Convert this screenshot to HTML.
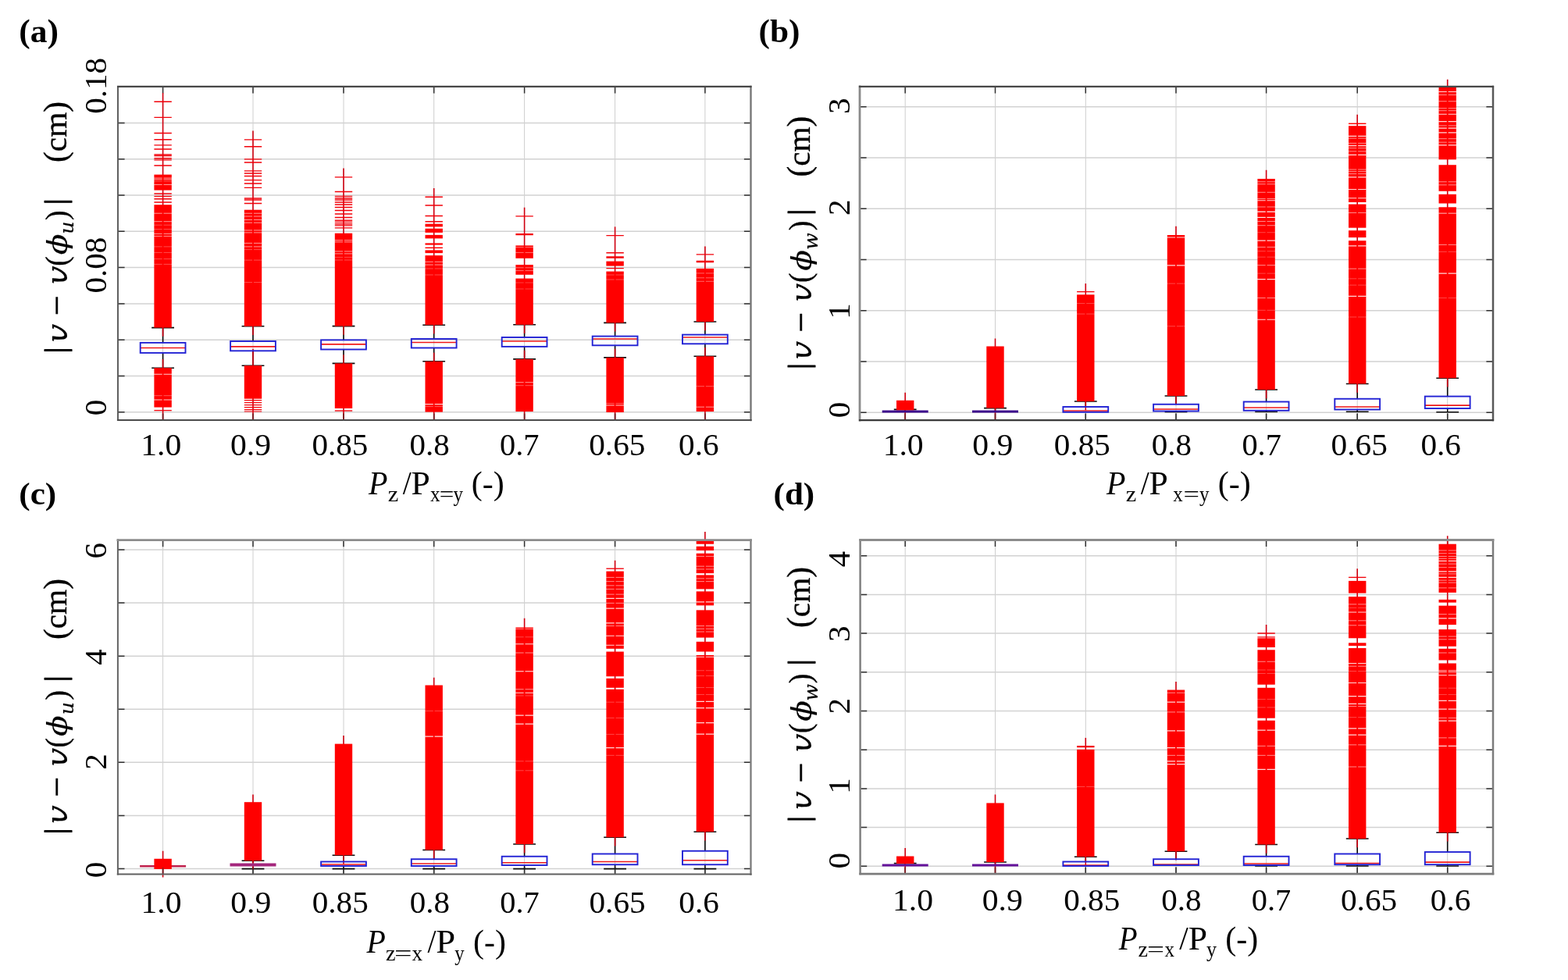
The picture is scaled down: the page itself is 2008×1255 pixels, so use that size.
<!DOCTYPE html>
<html lang="en"><head><meta charset="utf-8"><title>Box plots of displacement error versus pitch ratio</title>
<style>html,body{margin:0;padding:0;background:#fff;}body{width:2008px;height:1255px;overflow:hidden;}svg{display:block;}text{font-family:"Liberation Serif","DejaVu Serif",serif;fill:#000;}.m{font-family:"DejaVu Math TeX Gyre","DejaVu Serif","DejaVu Sans",serif;}.b{font-weight:bold;}.i{font-style:italic;}</style></head><body>
<svg width="2008" height="1255" viewBox="0 0 2008 1255">
<rect width="2008" height="1255" fill="#fff"/>
<g>
<path d="M208.6 110.9V538M324 110.9V538M440 110.9V538M555.7 110.9V538M671.6 110.9V538M787.6 110.9V538M902.9 110.9V538" stroke="#cecece" stroke-width="1.0" fill="none"/>
<path d="M151 527.8H961.5M151 481.5H961.5M151 435.2H961.5M151 388.9H961.5M151 342.6H961.5M151 296.3H961.5M151 250H961.5M151 203.7H961.5M151 157.4H961.5" stroke="#d2d2d2" stroke-width="1.5" fill="none"/>
<path d="M208.6 110.9v8.6M208.6 538v-8.6M324 110.9v8.6M324 538v-8.6M440 110.9v8.6M440 538v-8.6M555.7 110.9v8.6M555.7 538v-8.6M671.6 110.9v8.6M671.6 538v-8.6M787.6 110.9v8.6M787.6 538v-8.6M902.9 110.9v8.6M902.9 538v-8.6M151 527.8h8.6M961.5 527.8h-8.6M151 481.5h8.6M961.5 481.5h-8.6M151 435.2h8.6M961.5 435.2h-8.6M151 388.9h8.6M961.5 388.9h-8.6M151 342.6h8.6M961.5 342.6h-8.6M151 296.3h8.6M961.5 296.3h-8.6M151 250h8.6M961.5 250h-8.6M151 203.7h8.6M961.5 203.7h-8.6M151 157.4h8.6M961.5 157.4h-8.6" stroke="#303030" stroke-width="1.5" stroke-opacity="1" fill="none"/>
<path d="M208.6 419.6V438.9M194.2 419.6h28.8M208.6 451.9V471.2M194.2 471.2h28.8" stroke="#0a0a0a" stroke-width="1.6" fill="none"/>
<path d="M208.6 119V430.8" stroke="#d00010" stroke-width="1.6" fill="none"/>
<rect x="197.4" y="223.6" width="22.4" height="20" fill="#ff0000"/>
<rect x="197.4" y="262.2" width="22.4" height="157.4" fill="#ff0000"/>
<path d="M197.4 130.2h22.4M197.4 150.4h22.4M197.4 170.5h22.4M197.4 178.7h22.4M197.4 185.8h22.4M197.4 191h22.4M197.4 198h22.4M197.4 199.6h22.4M197.4 202.7h22.4M197.4 204.9h22.4M197.4 212h22.4M197.4 248h22.4M197.4 251.3h22.4M197.4 254.7h22.4M197.4 259h22.4" stroke="#f2000a" stroke-width="1.35" fill="none"/>
<path d="M197.1 228h10.6M209.5 228h10.6M197.1 229.8h10.6M209.5 229.8h10.6M197.1 236.5h10.6M209.5 236.5h10.6M197.1 273.2h10.6M209.5 273.2h10.6M197.1 283.7h10.6M209.5 283.7h10.6M197.1 299.4h10.6M209.5 299.4h10.6M197.1 302.4h10.6M209.5 302.4h10.6" stroke="#fff" stroke-opacity="0.6" stroke-width="1" fill="none"/>
<path d="M197.1 232h10.6M209.5 232h10.6M197.1 288.2h10.6M209.5 288.2h10.6M197.1 293.5h10.6M209.5 293.5h10.6M197.1 315.9h10.6M209.5 315.9h10.6M197.1 323.4h10.6M209.5 323.4h10.6M197.1 331.6h10.6M209.5 331.6h10.6M197.1 338.4h10.6M209.5 338.4h10.6" stroke="#fff" stroke-opacity="0.3" stroke-width="1" fill="none"/>
<path d="M208.6 460V538" stroke="#d00010" stroke-width="1.6" fill="none"/>
<rect x="197.4" y="471.2" width="22.4" height="50.4" fill="#ff0000"/>
<path d="M197.4 525.6h22.4" stroke="#f2000a" stroke-width="1.35" fill="none"/>
<path d="M197.1 479.2h10.6M209.5 479.2h10.6M197.1 512h10.6M209.5 512h10.6" stroke="#fff" stroke-opacity="0.8" stroke-width="1.1" fill="none"/>
<path d="M197.1 506.7h10.6M209.5 506.7h10.6" stroke="#fff" stroke-opacity="0.35" stroke-width="1" fill="none"/>
<path d="M179.7 445.5h57.8" stroke="#f01818" stroke-width="1.7" fill="none"/>
<rect x="179.7" y="438.9" width="57.8" height="13" fill="none" stroke="#2222d4" stroke-width="1.9"/>
<path d="M324 417.8V437M309.6 417.8h28.8M324 449.3V468.2M309.6 468.2h28.8" stroke="#0a0a0a" stroke-width="1.6" fill="none"/>
<path d="M324 167.5V429" stroke="#d00010" stroke-width="1.6" fill="none"/>
<rect x="312.8" y="268.7" width="22.4" height="149.1" fill="#ff0000"/>
<path d="M312.8 178.8h22.4M312.8 187.7h22.4M312.8 203.9h22.4M312.8 208h22.4M312.8 218.8h22.4M312.8 222h22.4M312.8 225.5h22.4M312.8 230.6h22.4M312.8 235h22.4M312.8 240.3h22.4M312.8 254h22.4M312.8 256h22.4M312.8 260.5h22.4" stroke="#f2000a" stroke-width="1.35" fill="none"/>
<path d="M312.5 273.2h10.6M324.9 273.2h10.6M312.5 277h10.6M324.9 277h10.6M312.5 281.5h10.6M324.9 281.5h10.6M312.5 285.2h10.6M324.9 285.2h10.6M312.5 294.9h10.6M324.9 294.9h10.6M312.5 297.9h10.6M324.9 297.9h10.6M312.5 311.4h10.6M324.9 311.4h10.6M312.5 315.9h10.6M324.9 315.9h10.6" stroke="#fff" stroke-opacity="0.6" stroke-width="1" fill="none"/>
<path d="M312.5 319.6h10.6M324.9 319.6h10.6M312.5 333.1h10.6M324.9 333.1h10.6M312.5 361.6h10.6M324.9 361.6h10.6" stroke="#fff" stroke-opacity="0.3" stroke-width="1" fill="none"/>
<path d="M324 446.7V538" stroke="#d00010" stroke-width="1.6" fill="none"/>
<rect x="312.8" y="468.2" width="22.4" height="42.5" fill="#ff0000"/>
<path d="M312.8 512.6h22.4M312.8 515.6h22.4M312.8 518.6h22.4M312.8 521.6h22.4M312.8 524.6h22.4M312.8 527h22.4" stroke="#f2000a" stroke-width="1.2" fill="none"/>
<path d="M295.1 443.9h57.8" stroke="#f01818" stroke-width="1.7" fill="none"/>
<rect x="295.1" y="437" width="57.8" height="12.3" fill="none" stroke="#2222d4" stroke-width="1.9"/>
<path d="M440 417.6V435.4M425.6 417.6h28.8M440 447.5V465.4M425.6 465.4h28.8" stroke="#0a0a0a" stroke-width="1.6" fill="none"/>
<path d="M440 215.5V428.8" stroke="#d00010" stroke-width="1.6" fill="none"/>
<rect x="428.8" y="298.7" width="22.4" height="118.9" fill="#ff0000"/>
<path d="M428.8 226.8h22.4M428.8 245.5h22.4M428.8 251.3h22.4M428.8 253.7h22.4M428.8 256h22.4M428.8 259h22.4M428.8 262h22.4M428.8 265.5h22.4M428.8 269.5h22.4M428.8 274h22.4M428.8 278.5h22.4M428.8 282.2h22.4M428.8 284.4h22.4M428.8 286.7h22.4M428.8 288.9h22.4M428.8 291.9h22.4" stroke="#f2000a" stroke-width="1.35" fill="none"/>
<path d="M428.5 307.7h10.6M440.9 307.7h10.6M428.5 309.9h10.6M440.9 309.9h10.6M428.5 321.9h10.6M440.9 321.9h10.6M428.5 324.9h10.6M440.9 324.9h10.6" stroke="#fff" stroke-opacity="0.6" stroke-width="1" fill="none"/>
<path d="M428.5 329.4h10.6M440.9 329.4h10.6M428.5 333h10.6M440.9 333h10.6" stroke="#fff" stroke-opacity="0.3" stroke-width="1" fill="none"/>
<path d="M440 454.2V538" stroke="#d00010" stroke-width="1.6" fill="none"/>
<rect x="428.8" y="465.4" width="22.4" height="57.6" fill="#ff0000"/>
<path d="M428.8 526h22.4" stroke="#f2000a" stroke-width="1.35" fill="none"/>
<path d="M411.1 440.9h57.8" stroke="#f01818" stroke-width="1.7" fill="none"/>
<rect x="411.1" y="435.4" width="57.8" height="12.1" fill="none" stroke="#2222d4" stroke-width="1.9"/>
<path d="M555.7 416.2V434M541.3 416.2h28.8M555.7 445.5V462.8M541.3 462.8h28.8" stroke="#0a0a0a" stroke-width="1.6" fill="none"/>
<path d="M555.7 241V427.4" stroke="#d00010" stroke-width="1.6" fill="none"/>
<rect x="544.5" y="286.7" width="22.4" height="3.7" fill="#ff0000"/>
<rect x="544.5" y="292.7" width="22.4" height="5.2" fill="#ff0000"/>
<rect x="544.5" y="300.9" width="22.4" height="4.5" fill="#ff0000"/>
<rect x="544.5" y="311.4" width="22.4" height="2.2" fill="#ff0000"/>
<rect x="544.5" y="316.6" width="22.4" height="1.5" fill="#ff0000"/>
<rect x="544.5" y="320.4" width="22.4" height="3.7" fill="#ff0000"/>
<rect x="544.5" y="327.1" width="22.4" height="89.1" fill="#ff0000"/>
<path d="M544.5 252.2h22.4M544.5 263h22.4M544.5 276.5h22.4M544.5 283.7h22.4" stroke="#f2000a" stroke-width="1.35" fill="none"/>
<path d="M544.2 335.3h10.6M556.6 335.3h10.6M544.2 339.1h10.6M556.6 339.1h10.6" stroke="#fff" stroke-opacity="0.6" stroke-width="1" fill="none"/>
<path d="M544.2 344h10.6M556.6 344h10.6M544.2 352h10.6M556.6 352h10.6" stroke="#fff" stroke-opacity="0.3" stroke-width="1" fill="none"/>
<path d="M555.7 451.6V538" stroke="#d00010" stroke-width="1.6" fill="none"/>
<rect x="544.5" y="462.8" width="22.4" height="64.8" fill="#ff0000"/>
<path d="M544.2 517.6h10.6M556.6 517.6h10.6" stroke="#fff" stroke-opacity="0.8" stroke-width="1.1" fill="none"/>
<path d="M544.2 520.6h10.6M556.6 520.6h10.6" stroke="#fff" stroke-opacity="0.35" stroke-width="1" fill="none"/>
<path d="M526.8 438.5h57.8" stroke="#f01818" stroke-width="1.7" fill="none"/>
<rect x="526.8" y="434" width="57.8" height="11.5" fill="none" stroke="#2222d4" stroke-width="1.9"/>
<path d="M671.6 415.8V432M657.2 415.8h28.8M671.6 443.9V459.9M657.2 459.9h28.8" stroke="#0a0a0a" stroke-width="1.6" fill="none"/>
<path d="M671.6 265.7V427" stroke="#d00010" stroke-width="1.6" fill="none"/>
<rect x="660.4" y="314.4" width="22.4" height="16.4" fill="#ff0000"/>
<rect x="660.4" y="339.1" width="22.4" height="12.7" fill="#ff0000"/>
<rect x="660.4" y="356.6" width="22.4" height="59.2" fill="#ff0000"/>
<path d="M660.4 276.9h22.4M660.4 299.6h22.4M660.4 300.6h22.4" stroke="#f2000a" stroke-width="1.35" fill="none"/>
<path d="M660.1 316.6h10.6M672.5 316.6h10.6M660.1 323.4h10.6M672.5 323.4h10.6M660.1 342.8h10.6M672.5 342.8h10.6M660.1 346.6h10.6M672.5 346.6h10.6" stroke="#fff" stroke-opacity="0.45" stroke-width="1" fill="none"/>
<path d="M660.1 362h10.6M672.5 362h10.6M660.1 370h10.6M672.5 370h10.6" stroke="#fff" stroke-opacity="0.25" stroke-width="1" fill="none"/>
<path d="M671.6 448.7V538" stroke="#d00010" stroke-width="1.6" fill="none"/>
<rect x="660.4" y="459.9" width="22.4" height="67.1" fill="#ff0000"/>
<path d="M660.1 489.7h10.6M672.5 489.7h10.6" stroke="#fff" stroke-opacity="0.6" stroke-width="1" fill="none"/>
<path d="M660.1 493.7h10.6M672.5 493.7h10.6" stroke="#fff" stroke-opacity="0.35" stroke-width="1" fill="none"/>
<path d="M642.7 437h57.8" stroke="#f01818" stroke-width="1.7" fill="none"/>
<rect x="642.7" y="432" width="57.8" height="11.9" fill="none" stroke="#2222d4" stroke-width="1.9"/>
<path d="M787.6 413.4V430.6M773.2 413.4h28.8M787.6 442.3V457.9M773.2 457.9h28.8" stroke="#0a0a0a" stroke-width="1.6" fill="none"/>
<path d="M787.6 290.4V424.6" stroke="#d00010" stroke-width="1.6" fill="none"/>
<rect x="776.4" y="334.6" width="22.4" height="6" fill="#ff0000"/>
<rect x="776.4" y="347.6" width="22.4" height="65.8" fill="#ff0000"/>
<path d="M776.4 301.6h22.4M776.4 323.7h22.4M776.4 329h22.4M776.4 330h22.4M776.4 343.6h22.4" stroke="#f2000a" stroke-width="1.35" fill="none"/>
<path d="M776.1 352h10.6M788.5 352h10.6M776.1 358h10.6M788.5 358h10.6" stroke="#fff" stroke-opacity="0.3" stroke-width="1" fill="none"/>
<path d="M787.6 446.7V538" stroke="#d00010" stroke-width="1.6" fill="none"/>
<rect x="776.4" y="457.9" width="22.4" height="70.1" fill="#ff0000"/>
<path d="M776.1 519h10.6M788.5 519h10.6" stroke="#fff" stroke-opacity="0.8" stroke-width="1.1" fill="none"/>
<path d="M776.1 516.6h10.6M788.5 516.6h10.6" stroke="#fff" stroke-opacity="0.35" stroke-width="1" fill="none"/>
<path d="M758.7 434h57.8" stroke="#f01818" stroke-width="1.7" fill="none"/>
<rect x="758.7" y="430.6" width="57.8" height="11.7" fill="none" stroke="#2222d4" stroke-width="1.9"/>
<path d="M902.9 412V428.6M888.5 412h28.8M902.9 440.3V456.3M888.5 456.3h28.8" stroke="#0a0a0a" stroke-width="1.6" fill="none"/>
<path d="M902.9 315.4V423.2" stroke="#d00010" stroke-width="1.6" fill="none"/>
<rect x="891.7" y="343.9" width="22.4" height="68.1" fill="#ff0000"/>
<path d="M891.7 325.9h22.4M891.7 334.5h22.4M891.7 335.5h22.4" stroke="#f2000a" stroke-width="1.35" fill="none"/>
<path d="M891.4 349.9h10.6M903.8 349.9h10.6M891.4 355.8h10.6M903.8 355.8h10.6M891.4 360.3h10.6M903.8 360.3h10.6" stroke="#fff" stroke-opacity="0.4" stroke-width="1" fill="none"/>
<path d="M902.9 445.1V538" stroke="#d00010" stroke-width="1.6" fill="none"/>
<rect x="891.7" y="456.3" width="22.4" height="70.7" fill="#ff0000"/>
<path d="M891.4 521.2h10.6M903.8 521.2h10.6" stroke="#fff" stroke-opacity="0.6" stroke-width="1" fill="none"/>
<path d="M891.4 494.7h10.6M903.8 494.7h10.6" stroke="#fff" stroke-opacity="0.35" stroke-width="1" fill="none"/>
<path d="M874 432h57.8" stroke="#f01818" stroke-width="1.7" fill="none"/>
<rect x="874" y="428.6" width="57.8" height="11.7" fill="none" stroke="#2222d4" stroke-width="1.9"/>
<path d="M208.6 538v-8.6M324 538v-8.6M440 538v-8.6M555.7 538v-8.6M671.6 538v-8.6M787.6 538v-8.6M902.9 538v-8.6" stroke="#303030" stroke-width="1.5" stroke-opacity="0.55" fill="none"/>
<path d="M151 110.9V538" stroke="#585858" stroke-width="1.9" fill="none" stroke-linecap="square"/>
<path d="M961.5 110.9V538" stroke="#787878" stroke-width="2.4" fill="none" stroke-linecap="square"/>
<path d="M151 110.9H961.5" stroke="#464646" stroke-width="2.1" fill="none" stroke-linecap="square"/>
<path d="M151 538H961.5" stroke="#4c4c4c" stroke-width="2.2" fill="none" stroke-linecap="square"/>
</g>
<g>
<path d="M1159.2 110.9V538.1M1274.5 110.9V538.1M1390.3 110.9V538.1M1506 110.9V538.1M1621.6 110.9V538.1M1738.2 110.9V538.1M1853.7 110.9V538.1" stroke="#cecece" stroke-width="1.0" fill="none"/>
<path d="M1101 528.2H1912M1101 462.97H1912M1101 397.74H1912M1101 332.51H1912M1101 267.28H1912M1101 202.05H1912M1101 136.82H1912" stroke="#d2d2d2" stroke-width="1.5" fill="none"/>
<path d="M1159.2 110.9v8.6M1159.2 538.1v-8.6M1274.5 110.9v8.6M1274.5 538.1v-8.6M1390.3 110.9v8.6M1390.3 538.1v-8.6M1506 110.9v8.6M1506 538.1v-8.6M1621.6 110.9v8.6M1621.6 538.1v-8.6M1738.2 110.9v8.6M1738.2 538.1v-8.6M1853.7 110.9v8.6M1853.7 538.1v-8.6M1101 528.2h8.6M1912 528.2h-8.6M1101 462.97h8.6M1912 462.97h-8.6M1101 397.74h8.6M1912 397.74h-8.6M1101 332.51h8.6M1912 332.51h-8.6M1101 267.28h8.6M1912 267.28h-8.6M1101 202.05h8.6M1912 202.05h-8.6M1101 136.82h8.6M1912 136.82h-8.6" stroke="#303030" stroke-width="1.5" stroke-opacity="1" fill="none"/>
<path d="M1159.2 524.4V526.8M1144.8 524.4h28.8" stroke="#0a0a0a" stroke-width="1.6" fill="none"/>
<path d="M1159.2 502.75V538" stroke="#d00010" stroke-width="1.6" fill="none"/>
<rect x="1148" y="512.75" width="22.4" height="12.75" fill="#ff0000"/>
<path d="M1129.7 527h59" stroke="#3c0a8c" stroke-width="3.2" fill="none"/>
<path d="M1274.5 522.6V526.8M1260.1 522.6h28.8" stroke="#0a0a0a" stroke-width="1.6" fill="none"/>
<path d="M1274.5 433.5V538" stroke="#d00010" stroke-width="1.6" fill="none"/>
<rect x="1263.3" y="443.5" width="22.4" height="79.1" fill="#ff0000"/>
<path d="M1245 527h59" stroke="#3c0a8c" stroke-width="3.2" fill="none"/>
<path d="M1390.3 514V521M1375.9 514h28.8" stroke="#0a0a0a" stroke-width="1.6" fill="none"/>
<path d="M1390.3 363.1V525.2" stroke="#d00010" stroke-width="1.6" fill="none"/>
<rect x="1379.1" y="377.3" width="22.4" height="136.7" fill="#ff0000"/>
<path d="M1379.1 373.6h22.4" stroke="#f2000a" stroke-width="1.35" fill="none"/>
<path d="M1378.8 388.58h10.6M1391.2 388.58h10.6M1378.8 402.06h10.6M1391.2 402.06h10.6" stroke="#fff" stroke-opacity="0.28" stroke-width="1" fill="none"/>
<path d="M1361.4 526h57.8" stroke="#f01818" stroke-width="1.7" fill="none"/>
<rect x="1361.4" y="521" width="57.8" height="6.75" fill="none" stroke="#2222d4" stroke-width="1.9"/>
<path d="M1506 507V517.75M1491.6 507h28.8M1506 526.5V527.5M1491.6 527.5h28.8" stroke="#0a0a0a" stroke-width="1.6" fill="none"/>
<path d="M1506 289.7V518.2" stroke="#d00010" stroke-width="1.6" fill="none"/>
<rect x="1494.8" y="301" width="22.4" height="206" fill="#ff0000"/>
<path d="M1494.5 303.96h10.6M1506.9 303.96h10.6M1494.5 339.91h10.6M1506.9 339.91h10.6" stroke="#fff" stroke-opacity="0.85" stroke-width="1.15" fill="none"/>
<path d="M1494.5 363.12h10.6M1506.9 363.12h10.6M1494.5 417.79h10.6M1506.9 417.79h10.6" stroke="#fff" stroke-opacity="0.28" stroke-width="1" fill="none"/>
<path d="M1477.1 524h57.8" stroke="#f01818" stroke-width="1.7" fill="none"/>
<rect x="1477.1" y="517.75" width="57.8" height="8.75" fill="none" stroke="#2222d4" stroke-width="1.9"/>
<path d="M1621.6 499V514.5M1607.2 499h28.8M1621.6 525.75V527.25M1607.2 527.25h28.8" stroke="#0a0a0a" stroke-width="1.6" fill="none"/>
<path d="M1621.6 217.8V510.2" stroke="#d00010" stroke-width="1.6" fill="none"/>
<rect x="1610.4" y="229" width="22.4" height="270" fill="#ff0000"/>
<path d="M1610.1 256.75h10.6M1622.5 256.75h10.6M1610.1 270.98h10.6M1622.5 270.98h10.6M1610.1 278.47h10.6M1622.5 278.47h10.6M1610.1 308.19h10.6M1622.5 308.19h10.6M1610.1 357.61h10.6M1622.5 357.61h10.6M1610.1 409.28h10.6M1622.5 409.28h10.6" stroke="#fff" stroke-opacity="0.85" stroke-width="1.15" fill="none"/>
<path d="M1610.1 232.79h10.6M1622.5 232.79h10.6M1610.1 235.78h10.6M1622.5 235.78h10.6M1610.1 246.27h10.6M1622.5 246.27h10.6M1610.1 254.5h10.6M1622.5 254.5h10.6M1610.1 264.99h10.6M1622.5 264.99h10.6M1610.1 271.5h10.6M1622.5 271.5h10.6M1610.1 278.24h10.6M1622.5 278.24h10.6M1610.1 283.48h10.6M1622.5 283.48h10.6M1610.1 288.72h10.6M1622.5 288.72h10.6M1610.1 316.43h10.6M1622.5 316.43h10.6M1610.1 339.64h10.6M1622.5 339.64h10.6M1610.1 381.58h10.6M1622.5 381.58h10.6" stroke="#fff" stroke-opacity="0.55" stroke-width="1" fill="none"/>
<path d="M1610.1 297.71h10.6M1622.5 297.71h10.6M1610.1 321.67h10.6M1622.5 321.67h10.6M1610.1 329.16h10.6M1622.5 329.16h10.6M1610.1 350.13h10.6M1622.5 350.13h10.6M1610.1 397.3h10.6M1622.5 397.3h10.6" stroke="#fff" stroke-opacity="0.28" stroke-width="1" fill="none"/>
<path d="M1592.7 522h57.8" stroke="#f01818" stroke-width="1.7" fill="none"/>
<rect x="1592.7" y="514.5" width="57.8" height="11.25" fill="none" stroke="#2222d4" stroke-width="1.9"/>
<path d="M1738.2 491.5V510.75M1723.8 491.5h28.8M1738.2 524.5V527.25M1723.8 527.25h28.8" stroke="#0a0a0a" stroke-width="1.6" fill="none"/>
<path d="M1738.2 146.7V502.7" stroke="#d00010" stroke-width="1.6" fill="none"/>
<rect x="1727" y="157.6" width="22.4" height="1.5" fill="#ff0000"/>
<rect x="1727" y="161.2" width="22.4" height="97.8" fill="#ff0000"/>
<rect x="1727" y="261.54" width="22.4" height="30.17" fill="#ff0000"/>
<rect x="1727" y="295.16" width="22.4" height="8.99" fill="#ff0000"/>
<rect x="1727" y="308.19" width="22.4" height="183.31" fill="#ff0000"/>
<path d="M1726.7 174.38h10.6M1739.1 174.38h10.6M1726.7 186.66h10.6M1739.1 186.66h10.6M1726.7 198.34h10.6M1739.1 198.34h10.6M1726.7 226.8h10.6M1739.1 226.8h10.6M1726.7 242.52h10.6M1739.1 242.52h10.6M1726.7 253.75h10.6M1739.1 253.75h10.6M1726.7 314.93h10.6M1739.1 314.93h10.6M1726.7 379.33h10.6M1739.1 379.33h10.6" stroke="#fff" stroke-opacity="0.85" stroke-width="1.15" fill="none"/>
<path d="M1726.7 177.07h10.6M1739.1 177.07h10.6M1726.7 183.36h10.6M1739.1 183.36h10.6M1726.7 189.65h10.6M1739.1 189.65h10.6M1726.7 193.85h10.6M1739.1 193.85h10.6M1726.7 217.06h10.6M1739.1 217.06h10.6M1726.7 219.61h10.6M1739.1 219.61h10.6M1726.7 222.6h10.6M1739.1 222.6h10.6M1726.7 272.47h10.6M1739.1 272.47h10.6M1726.7 344.14h10.6M1739.1 344.14h10.6" stroke="#fff" stroke-opacity="0.55" stroke-width="1" fill="none"/>
<path d="M1726.7 356.87h10.6M1739.1 356.87h10.6M1726.7 365.1h10.6M1739.1 365.1h10.6M1726.7 405.99h10.6M1739.1 405.99h10.6" stroke="#fff" stroke-opacity="0.28" stroke-width="1" fill="none"/>
<path d="M1709.3 521h57.8" stroke="#f01818" stroke-width="1.7" fill="none"/>
<rect x="1709.3" y="510.75" width="57.8" height="13.75" fill="none" stroke="#2222d4" stroke-width="1.9"/>
<path d="M1853.7 484.2V507.6M1839.3 484.2h28.8M1853.7 523V527.8M1839.3 527.8h28.8" stroke="#0a0a0a" stroke-width="1.6" fill="none"/>
<path d="M1853.7 101.7V495.4" stroke="#d00010" stroke-width="1.6" fill="none"/>
<rect x="1842.5" y="110.7" width="22.4" height="93.63" fill="#ff0000"/>
<rect x="1842.5" y="211.22" width="22.4" height="33.55" fill="#ff0000"/>
<rect x="1842.5" y="248.81" width="22.4" height="11.68" fill="#ff0000"/>
<rect x="1842.5" y="265.29" width="22.4" height="218.91" fill="#ff0000"/>
<path d="M1842.2 117.47h10.6M1854.6 117.47h10.6M1842.2 146.22h10.6M1854.6 146.22h10.6M1842.2 155.66h10.6M1854.6 155.66h10.6M1842.2 164.19h10.6M1854.6 164.19h10.6M1842.2 169.88h10.6M1854.6 169.88h10.6M1842.2 185.91h10.6M1854.6 185.91h10.6M1842.2 350.13h10.6M1854.6 350.13h10.6" stroke="#fff" stroke-opacity="0.85" stroke-width="1.15" fill="none"/>
<path d="M1842.2 121.51h10.6M1854.6 121.51h10.6M1842.2 129.75h10.6M1854.6 129.75h10.6M1842.2 138.73h10.6M1854.6 138.73h10.6M1842.2 141.73h10.6M1854.6 141.73h10.6M1842.2 160.9h10.6M1854.6 160.9h10.6M1842.2 177.67h10.6M1854.6 177.67h10.6M1842.2 182.16h10.6M1854.6 182.16h10.6M1842.2 232.79h10.6M1854.6 232.79h10.6M1842.2 236.83h10.6M1854.6 236.83h10.6M1842.2 273.22h10.6M1854.6 273.22h10.6M1842.2 313.43h10.6M1854.6 313.43h10.6" stroke="#fff" stroke-opacity="0.55" stroke-width="1" fill="none"/>
<path d="M1842.2 273h10.6M1854.6 273h10.6M1842.2 322.42h10.6M1854.6 322.42h10.6M1842.2 381.58h10.6M1854.6 381.58h10.6" stroke="#fff" stroke-opacity="0.28" stroke-width="1" fill="none"/>
<path d="M1824.8 519.2h57.8" stroke="#f01818" stroke-width="1.7" fill="none"/>
<rect x="1824.8" y="507.6" width="57.8" height="15.4" fill="none" stroke="#2222d4" stroke-width="1.9"/>
<path d="M1159.2 538.1v-8.6M1274.5 538.1v-8.6M1390.3 538.1v-8.6M1506 538.1v-8.6M1621.6 538.1v-8.6M1738.2 538.1v-8.6M1853.7 538.1v-8.6" stroke="#303030" stroke-width="1.5" stroke-opacity="0.55" fill="none"/>
<path d="M1101 110.9V538.1" stroke="#8a8a8a" stroke-width="2.8" fill="none" stroke-linecap="square"/>
<path d="M1912 110.9V538.1" stroke="#585858" stroke-width="2.5" fill="none" stroke-linecap="square"/>
<path d="M1101 110.9H1912" stroke="#464646" stroke-width="2.1" fill="none" stroke-linecap="square"/>
<path d="M1101 538.1H1912" stroke="#3a3a3a" stroke-width="2.1" fill="none" stroke-linecap="square"/>
</g>
<g>
<path d="M208.6 691.6V1119.5M324 691.6V1119.5M440 691.6V1119.5M555.7 691.6V1119.5M671.6 691.6V1119.5M787.6 691.6V1119.5M902.9 691.6V1119.5" stroke="#cecece" stroke-width="1.0" fill="none"/>
<path d="M150.9 1112.5H961.5M150.9 1044.42H961.5M150.9 976.34H961.5M150.9 908.26H961.5M150.9 840.18H961.5M150.9 772.1H961.5M150.9 704.02H961.5" stroke="#d2d2d2" stroke-width="1.5" fill="none"/>
<path d="M208.6 691.6v8.6M208.6 1119.5v-8.6M324 691.6v8.6M324 1119.5v-8.6M440 691.6v8.6M440 1119.5v-8.6M555.7 691.6v8.6M555.7 1119.5v-8.6M671.6 691.6v8.6M671.6 1119.5v-8.6M787.6 691.6v8.6M787.6 1119.5v-8.6M902.9 691.6v8.6M902.9 1119.5v-8.6M150.9 1112.5h8.6M961.5 1112.5h-8.6M150.9 1044.42h8.6M961.5 1044.42h-8.6M150.9 976.34h8.6M961.5 976.34h-8.6M150.9 908.26h8.6M961.5 908.26h-8.6M150.9 840.18h8.6M961.5 840.18h-8.6M150.9 772.1h8.6M961.5 772.1h-8.6M150.9 704.02h8.6M961.5 704.02h-8.6" stroke="#303030" stroke-width="1.5" stroke-opacity="1" fill="none"/>
<path d="M179.1 1109.25h59" stroke="#c0224e" stroke-width="2.6" fill="none"/>
<path d="M208.6 1089.75V1123.5" stroke="#d00010" stroke-width="1.6" fill="none"/>
<rect x="197.4" y="1099.75" width="22.4" height="13.25" fill="#ff0000"/>
<path d="M324 1102.25V1105.6M309.6 1102.25h28.8M324 1109.6V1112.6M309.6 1112.6h28.8" stroke="#0a0a0a" stroke-width="1.6" fill="none"/>
<path d="M324 1017.5V1113.45" stroke="#d00010" stroke-width="1.6" fill="none"/>
<rect x="312.8" y="1027.2" width="22.4" height="75.05" fill="#ff0000"/>
<path d="M294.5 1107.6h59" stroke="#a4267c" stroke-width="4" fill="none"/>
<path d="M440 1095.25V1103.5M425.6 1095.25h28.8M440 1109V1112.6M425.6 1112.6h28.8" stroke="#0a0a0a" stroke-width="1.6" fill="none"/>
<path d="M440 941.9V1106.45" stroke="#d00010" stroke-width="1.6" fill="none"/>
<rect x="428.8" y="952.6" width="22.4" height="142.65" fill="#ff0000"/>
<path d="M411.1 1107h57.8" stroke="#f01818" stroke-width="1.7" fill="none"/>
<rect x="411.1" y="1103.5" width="57.8" height="5.5" fill="none" stroke="#2222d4" stroke-width="1.9"/>
<path d="M555.7 1088.5V1100.25M541.3 1088.5h28.8M555.7 1109V1112.6M541.3 1112.6h28.8" stroke="#0a0a0a" stroke-width="1.6" fill="none"/>
<path d="M555.7 867.7V1099.7" stroke="#d00010" stroke-width="1.6" fill="none"/>
<rect x="544.5" y="877.5" width="22.4" height="211" fill="#ff0000"/>
<path d="M544.2 943.06h10.6M556.6 943.06h10.6" stroke="#fff" stroke-opacity="0.85" stroke-width="1.15" fill="none"/>
<path d="M544.2 910.41h10.6M556.6 910.41h10.6" stroke="#fff" stroke-opacity="0.28" stroke-width="1" fill="none"/>
<path d="M526.8 1106h57.8" stroke="#f01818" stroke-width="1.7" fill="none"/>
<rect x="526.8" y="1100.25" width="57.8" height="8.75" fill="none" stroke="#2222d4" stroke-width="1.9"/>
<path d="M671.6 1081V1096.75M657.2 1081h28.8M671.6 1108V1112.6M657.2 1112.6h28.8" stroke="#0a0a0a" stroke-width="1.6" fill="none"/>
<path d="M671.6 791.8V1092.2" stroke="#d00010" stroke-width="1.6" fill="none"/>
<rect x="660.4" y="803.5" width="22.4" height="277.5" fill="#ff0000"/>
<path d="M660.1 824.77h10.6M672.5 824.77h10.6M660.1 887.2h10.6M672.5 887.2h10.6M660.1 916.11h10.6M672.5 916.11h10.6M660.1 927.19h10.6M672.5 927.19h10.6" stroke="#fff" stroke-opacity="0.85" stroke-width="1.15" fill="none"/>
<path d="M660.1 805.3h10.6M672.5 805.3h10.6M660.1 836h10.6M672.5 836h10.6M660.1 859.96h10.6M672.5 859.96h10.6M660.1 859.49h10.6M672.5 859.49h10.6M660.1 882.71h10.6M672.5 882.71h10.6" stroke="#fff" stroke-opacity="0.55" stroke-width="1" fill="none"/>
<path d="M660.1 815.78h10.6M672.5 815.78h10.6M660.1 890.94h10.6M672.5 890.94h10.6M660.1 974.81h10.6M672.5 974.81h10.6M660.1 986.8h10.6M672.5 986.8h10.6" stroke="#fff" stroke-opacity="0.28" stroke-width="1" fill="none"/>
<path d="M642.7 1104.75h57.8" stroke="#f01818" stroke-width="1.7" fill="none"/>
<rect x="642.7" y="1096.75" width="57.8" height="11.25" fill="none" stroke="#2222d4" stroke-width="1.9"/>
<path d="M787.6 1072.25V1093.5M773.2 1072.25h28.8M787.6 1107.25V1112.6M773.2 1112.6h28.8" stroke="#0a0a0a" stroke-width="1.6" fill="none"/>
<path d="M787.6 717.7V1083.45" stroke="#d00010" stroke-width="1.6" fill="none"/>
<rect x="776.4" y="731.6" width="22.4" height="99.16" fill="#ff0000"/>
<rect x="776.4" y="834.5" width="22.4" height="31.73" fill="#ff0000"/>
<rect x="776.4" y="868.78" width="22.4" height="11.98" fill="#ff0000"/>
<rect x="776.4" y="882.71" width="22.4" height="189.54" fill="#ff0000"/>
<path d="M776.4 728.2h22.4" stroke="#f2000a" stroke-width="1.35" fill="none"/>
<path d="M776.1 766.36h10.6M788.5 766.36h10.6M776.1 779.09h10.6M788.5 779.09h10.6M776.1 797.81h10.6M788.5 797.81h10.6M776.1 814.28h10.6M788.5 814.28h10.6M776.1 826.27h10.6M788.5 826.27h10.6M776.1 957.59h10.6M788.5 957.59h10.6" stroke="#fff" stroke-opacity="0.85" stroke-width="1.15" fill="none"/>
<path d="M776.1 739.4h10.6M788.5 739.4h10.6M776.1 744.64h10.6M788.5 744.64h10.6M776.1 749.88h10.6M788.5 749.88h10.6M776.1 754.38h10.6M788.5 754.38h10.6M776.1 761.12h10.6M788.5 761.12h10.6M776.1 772.35h10.6M788.5 772.35h10.6M776.1 801.55h10.6M788.5 801.55h10.6" stroke="#fff" stroke-opacity="0.55" stroke-width="1" fill="none"/>
<path d="M776.1 899.18h10.6M788.5 899.18h10.6M776.1 919.4h10.6M788.5 919.4h10.6M776.1 940.37h10.6M788.5 940.37h10.6M776.1 967.33h10.6M788.5 967.33h10.6" stroke="#fff" stroke-opacity="0.28" stroke-width="1" fill="none"/>
<path d="M758.7 1103.5h57.8" stroke="#f01818" stroke-width="1.7" fill="none"/>
<rect x="758.7" y="1093.5" width="57.8" height="13.75" fill="none" stroke="#2222d4" stroke-width="1.9"/>
<path d="M902.9 1065.25V1089.75M888.5 1065.25h28.8M902.9 1107.25V1112.6M888.5 1112.6h28.8" stroke="#0a0a0a" stroke-width="1.6" fill="none"/>
<path d="M902.9 681V1076.45" stroke="#d00010" stroke-width="1.6" fill="none"/>
<rect x="891.7" y="691.2" width="22.4" height="5.52" fill="#ff0000"/>
<rect x="891.7" y="699.71" width="22.4" height="5.24" fill="#ff0000"/>
<rect x="891.7" y="708.7" width="22.4" height="25.46" fill="#ff0000"/>
<rect x="891.7" y="736.4" width="22.4" height="17.97" fill="#ff0000"/>
<rect x="891.7" y="757.37" width="22.4" height="17.97" fill="#ff0000"/>
<rect x="891.7" y="781.34" width="22.4" height="35.2" fill="#ff0000"/>
<rect x="891.7" y="821.77" width="22.4" height="12.73" fill="#ff0000"/>
<rect x="891.7" y="839" width="22.4" height="226.25" fill="#ff0000"/>
<path d="M891.4 770.85h10.6M903.8 770.85h10.6M891.4 841.24h10.6M903.8 841.24h10.6M891.4 898.43h10.6M903.8 898.43h10.6M891.4 906.67h10.6M903.8 906.67h10.6M891.4 925.69h10.6M903.8 925.69h10.6M891.4 940.07h10.6M903.8 940.07h10.6" stroke="#fff" stroke-opacity="0.85" stroke-width="1.15" fill="none"/>
<path d="M891.4 712.44h10.6M903.8 712.44h10.6M891.4 725.17h10.6M903.8 725.17h10.6M891.4 728.92h10.6M903.8 728.92h10.6M891.4 740.9h10.6M903.8 740.9h10.6M891.4 744.64h10.6M903.8 744.64h10.6M891.4 801.55h10.6M903.8 801.55h10.6M891.4 805.3h10.6M903.8 805.3h10.6M891.4 809.04h10.6M903.8 809.04h10.6" stroke="#fff" stroke-opacity="0.55" stroke-width="1" fill="none"/>
<path d="M891.4 858.74h10.6M903.8 858.74h10.6M891.4 865.48h10.6M903.8 865.48h10.6M891.4 880.46h10.6M903.8 880.46h10.6M891.4 889.45h10.6M903.8 889.45h10.6" stroke="#fff" stroke-opacity="0.28" stroke-width="1" fill="none"/>
<path d="M874 1101.75h57.8" stroke="#f01818" stroke-width="1.7" fill="none"/>
<rect x="874" y="1089.75" width="57.8" height="17.5" fill="none" stroke="#2222d4" stroke-width="1.9"/>
<path d="M208.6 1119.5v-8.6M324 1119.5v-8.6M440 1119.5v-8.6M555.7 1119.5v-8.6M671.6 1119.5v-8.6M787.6 1119.5v-8.6M902.9 1119.5v-8.6" stroke="#303030" stroke-width="1.5" stroke-opacity="0.55" fill="none"/>
<path d="M150.9 691.6V1119.5" stroke="#646464" stroke-width="2" fill="none" stroke-linecap="square"/>
<path d="M961.5 691.6V1119.5" stroke="#7c7c7c" stroke-width="2.3" fill="none" stroke-linecap="square"/>
<path d="M150.9 691.6H961.5" stroke="#8c8c8c" stroke-width="2.8" fill="none" stroke-linecap="square"/>
<path d="M150.9 1119.5H961.5" stroke="#606060" stroke-width="2.2" fill="none" stroke-linecap="square"/>
</g>
<g>
<path d="M1159.2 691.5V1119.1M1274.5 691.5V1119.1M1390.3 691.5V1119.1M1506 691.5V1119.1M1621.6 691.5V1119.1M1738.2 691.5V1119.1M1853.7 691.5V1119.1" stroke="#cecece" stroke-width="1.0" fill="none"/>
<path d="M1101.6 1109.3H1912M1101.6 1059.6H1912M1101.6 1009.9H1912M1101.6 960.2H1912M1101.6 910.5H1912M1101.6 860.8H1912M1101.6 811.1H1912M1101.6 761.4H1912M1101.6 711.7H1912" stroke="#d2d2d2" stroke-width="1.5" fill="none"/>
<path d="M1159.2 691.5v8.6M1159.2 1119.1v-8.6M1274.5 691.5v8.6M1274.5 1119.1v-8.6M1390.3 691.5v8.6M1390.3 1119.1v-8.6M1506 691.5v8.6M1506 1119.1v-8.6M1621.6 691.5v8.6M1621.6 1119.1v-8.6M1738.2 691.5v8.6M1738.2 1119.1v-8.6M1853.7 691.5v8.6M1853.7 1119.1v-8.6M1101.6 1109.3h8.6M1912 1109.3h-8.6M1101.6 1059.6h8.6M1912 1059.6h-8.6M1101.6 1009.9h8.6M1912 1009.9h-8.6M1101.6 960.2h8.6M1912 960.2h-8.6M1101.6 910.5h8.6M1912 910.5h-8.6M1101.6 860.8h8.6M1912 860.8h-8.6M1101.6 811.1h8.6M1912 811.1h-8.6M1101.6 761.4h8.6M1912 761.4h-8.6M1101.6 711.7h8.6M1912 711.7h-8.6" stroke="#303030" stroke-width="1.5" stroke-opacity="1" fill="none"/>
<path d="M1159.2 1105.6V1107.8M1144.8 1105.6h28.8" stroke="#0a0a0a" stroke-width="1.6" fill="none"/>
<path d="M1159.2 1086V1119" stroke="#d00010" stroke-width="1.6" fill="none"/>
<rect x="1148" y="1096.5" width="22.4" height="9.5" fill="#ff0000"/>
<path d="M1129.7 1108h59" stroke="#64129a" stroke-width="3.2" fill="none"/>
<path d="M1274.5 1104V1107.8M1260.1 1104h28.8" stroke="#0a0a0a" stroke-width="1.6" fill="none"/>
<path d="M1274.5 1017.5V1119" stroke="#d00010" stroke-width="1.6" fill="none"/>
<rect x="1263.3" y="1028.4" width="22.4" height="75.6" fill="#ff0000"/>
<path d="M1245 1108h59" stroke="#64129a" stroke-width="3.2" fill="none"/>
<path d="M1390.3 1097.25V1103.5M1375.9 1097.25h28.8" stroke="#0a0a0a" stroke-width="1.6" fill="none"/>
<path d="M1390.3 944.9V1108.45" stroke="#d00010" stroke-width="1.6" fill="none"/>
<rect x="1379.1" y="959.8" width="22.4" height="137.45" fill="#ff0000"/>
<path d="M1379.1 955.6h22.4M1379.1 956.6h22.4" stroke="#f2000a" stroke-width="1.35" fill="none"/>
<path d="M1378.8 1007.46h10.6M1391.2 1007.46h10.6" stroke="#fff" stroke-opacity="0.28" stroke-width="1" fill="none"/>
<path d="M1361.4 1108h57.8" stroke="#f01818" stroke-width="1.7" fill="none"/>
<rect x="1361.4" y="1103.5" width="57.8" height="5.5" fill="none" stroke="#2222d4" stroke-width="1.9"/>
<path d="M1506 1090.25V1100.25M1491.6 1090.25h28.8" stroke="#0a0a0a" stroke-width="1.6" fill="none"/>
<path d="M1506 873V1101.45" stroke="#d00010" stroke-width="1.6" fill="none"/>
<rect x="1494.8" y="883.5" width="22.4" height="206.75" fill="#ff0000"/>
<path d="M1494.5 899.18h10.6M1506.9 899.18h10.6M1494.5 935.87h10.6M1506.9 935.87h10.6M1494.5 957.59h10.6M1506.9 957.59h10.6M1494.5 974.81h10.6M1506.9 974.81h10.6M1494.5 978.56h10.6M1506.9 978.56h10.6" stroke="#fff" stroke-opacity="0.85" stroke-width="1.15" fill="none"/>
<path d="M1494.5 887.2h10.6M1506.9 887.2h10.6M1494.5 911.91h10.6M1506.9 911.91h10.6M1494.5 967.33h10.6M1506.9 967.33h10.6" stroke="#fff" stroke-opacity="0.55" stroke-width="1" fill="none"/>
<path d="M1477.1 1107h57.8" stroke="#f01818" stroke-width="1.7" fill="none"/>
<rect x="1477.1" y="1100.25" width="57.8" height="7.75" fill="none" stroke="#2222d4" stroke-width="1.9"/>
<path d="M1621.6 1081.5V1096.75M1607.2 1081.5h28.8M1621.6 1108V1109M1607.2 1109h28.8" stroke="#0a0a0a" stroke-width="1.6" fill="none"/>
<path d="M1621.6 800V1092.7" stroke="#d00010" stroke-width="1.6" fill="none"/>
<rect x="1610.4" y="817.3" width="22.4" height="11.66" fill="#ff0000"/>
<rect x="1610.4" y="832.26" width="22.4" height="44.46" fill="#ff0000"/>
<rect x="1610.4" y="880.76" width="22.4" height="38.94" fill="#ff0000"/>
<rect x="1610.4" y="922.7" width="22.4" height="158.8" fill="#ff0000"/>
<path d="M1610.4 811h22.4M1610.4 815.8h22.4" stroke="#f2000a" stroke-width="1.35" fill="none"/>
<path d="M1610.1 935.13h10.6M1622.5 935.13h10.6M1610.1 985.3h10.6M1622.5 985.3h10.6" stroke="#fff" stroke-opacity="0.85" stroke-width="1.15" fill="none"/>
<path d="M1610.1 847.23h10.6M1622.5 847.23h10.6M1610.1 955.34h10.6M1622.5 955.34h10.6M1610.1 967.33h10.6M1622.5 967.33h10.6" stroke="#fff" stroke-opacity="0.55" stroke-width="1" fill="none"/>
<path d="M1610.1 858h10.6M1622.5 858h10.6M1610.1 862.49h10.6M1622.5 862.49h10.6M1610.1 895.44h10.6M1622.5 895.44h10.6M1610.1 905.92h10.6M1622.5 905.92h10.6" stroke="#fff" stroke-opacity="0.28" stroke-width="1" fill="none"/>
<path d="M1592.7 1106h57.8" stroke="#f01818" stroke-width="1.7" fill="none"/>
<rect x="1592.7" y="1096.75" width="57.8" height="11.25" fill="none" stroke="#2222d4" stroke-width="1.9"/>
<path d="M1738.2 1074V1093.5M1723.8 1074h28.8M1738.2 1107.25V1109M1723.8 1109h28.8" stroke="#0a0a0a" stroke-width="1.6" fill="none"/>
<path d="M1738.2 728.2V1085.2" stroke="#d00010" stroke-width="1.6" fill="none"/>
<rect x="1727" y="743.9" width="22.4" height="15.72" fill="#ff0000"/>
<rect x="1727" y="764.11" width="22.4" height="53.17" fill="#ff0000"/>
<rect x="1727" y="823.27" width="22.4" height="3.74" fill="#ff0000"/>
<rect x="1727" y="830.01" width="22.4" height="243.99" fill="#ff0000"/>
<path d="M1727 739.4h22.4" stroke="#f2000a" stroke-width="1.35" fill="none"/>
<path d="M1726.7 784.03h10.6M1739.1 784.03h10.6M1726.7 849.48h10.6M1739.1 849.48h10.6M1726.7 874.47h10.6M1739.1 874.47h10.6M1726.7 891.69h10.6M1739.1 891.69h10.6M1726.7 901.43h10.6M1739.1 901.43h10.6M1726.7 932.88h10.6M1739.1 932.88h10.6M1726.7 941.12h10.6M1739.1 941.12h10.6" stroke="#fff" stroke-opacity="0.85" stroke-width="1.15" fill="none"/>
<path d="M1726.7 773.85h10.6M1739.1 773.85h10.6M1726.7 794.81h10.6M1739.1 794.81h10.6M1726.7 800.81h10.6M1739.1 800.81h10.6M1726.7 853.22h10.6M1739.1 853.22h10.6M1726.7 904.42h10.6M1739.1 904.42h10.6M1726.7 953.85h10.6M1739.1 953.85h10.6M1726.7 982h10.6M1739.1 982h10.6" stroke="#fff" stroke-opacity="0.55" stroke-width="1" fill="none"/>
<path d="M1726.7 778.34h10.6M1739.1 778.34h10.6M1726.7 859.49h10.6M1739.1 859.49h10.6M1726.7 918.65h10.6M1739.1 918.65h10.6" stroke="#fff" stroke-opacity="0.28" stroke-width="1" fill="none"/>
<path d="M1709.3 1105.5h57.8" stroke="#f01818" stroke-width="1.7" fill="none"/>
<rect x="1709.3" y="1093.5" width="57.8" height="13.75" fill="none" stroke="#2222d4" stroke-width="1.9"/>
<path d="M1853.7 1066.3V1091.1M1839.3 1066.3h28.8M1853.7 1107.2V1109M1839.3 1109h28.8" stroke="#0a0a0a" stroke-width="1.6" fill="none"/>
<path d="M1853.7 686.2V1077.5" stroke="#d00010" stroke-width="1.6" fill="none"/>
<rect x="1842.5" y="696.7" width="22.4" height="62.17" fill="#ff0000"/>
<rect x="1842.5" y="767.86" width="22.4" height="3.74" fill="#ff0000"/>
<rect x="1842.5" y="775.64" width="22.4" height="24.41" fill="#ff0000"/>
<rect x="1842.5" y="806.05" width="22.4" height="21.72" fill="#ff0000"/>
<rect x="1842.5" y="830.76" width="22.4" height="14.68" fill="#ff0000"/>
<rect x="1842.5" y="849.48" width="22.4" height="216.82" fill="#ff0000"/>
<path d="M1842.2 718.43h10.6M1854.6 718.43h10.6M1842.2 731.91h10.6M1854.6 731.91h10.6M1842.2 739.4h10.6M1854.6 739.4h10.6M1842.2 791.82h10.6M1854.6 791.82h10.6M1842.2 860.24h10.6M1854.6 860.24h10.6M1842.2 864.73h10.6M1854.6 864.73h10.6M1842.2 897.38h10.6M1854.6 897.38h10.6M1842.2 908.17h10.6M1854.6 908.17h10.6M1842.2 923.14h10.6M1854.6 923.14h10.6M1842.2 955.34h10.6M1854.6 955.34h10.6" stroke="#fff" stroke-opacity="0.85" stroke-width="1.15" fill="none"/>
<path d="M1842.2 704.95h10.6M1854.6 704.95h10.6M1842.2 708.7h10.6M1854.6 708.7h10.6M1842.2 712.44h10.6M1854.6 712.44h10.6M1842.2 715.44h10.6M1854.6 715.44h10.6M1842.2 722.18h10.6M1854.6 722.18h10.6M1842.2 726.67h10.6M1854.6 726.67h10.6M1842.2 734.91h10.6M1854.6 734.91h10.6M1842.2 743.14h10.6M1854.6 743.14h10.6M1842.2 746.14h10.6M1854.6 746.14h10.6M1842.2 752.88h10.6M1854.6 752.88h10.6M1842.2 786.58h10.6M1854.6 786.58h10.6M1842.2 815.03h10.6M1854.6 815.03h10.6M1842.2 818.78h10.6M1854.6 818.78h10.6M1842.2 836h10.6M1854.6 836h10.6M1842.2 858.47h10.6M1854.6 858.47h10.6M1842.2 919.4h10.6M1854.6 919.4h10.6M1842.2 944.86h10.6M1854.6 944.86h10.6" stroke="#fff" stroke-opacity="0.55" stroke-width="1" fill="none"/>
<path d="M1842.2 881.21h10.6M1854.6 881.21h10.6M1842.2 889.45h10.6M1854.6 889.45h10.6" stroke="#fff" stroke-opacity="0.28" stroke-width="1" fill="none"/>
<path d="M1824.8 1104.2h57.8" stroke="#f01818" stroke-width="1.7" fill="none"/>
<rect x="1824.8" y="1091.1" width="57.8" height="16.1" fill="none" stroke="#2222d4" stroke-width="1.9"/>
<path d="M1159.2 1119.1v-8.6M1274.5 1119.1v-8.6M1390.3 1119.1v-8.6M1506 1119.1v-8.6M1621.6 1119.1v-8.6M1738.2 1119.1v-8.6M1853.7 1119.1v-8.6" stroke="#303030" stroke-width="1.5" stroke-opacity="0.55" fill="none"/>
<path d="M1101.6 691.5V1119.1" stroke="#808080" stroke-width="2.5" fill="none" stroke-linecap="square"/>
<path d="M1912 691.5V1119.1" stroke="#7c7c7c" stroke-width="2.5" fill="none" stroke-linecap="square"/>
<path d="M1101.6 691.5H1912" stroke="#8c8c8c" stroke-width="2.8" fill="none" stroke-linecap="square"/>
<path d="M1101.6 1119.1H1912" stroke="#7c7c7c" stroke-width="2.6" fill="none" stroke-linecap="square"/>
</g>
<text font-size="41" transform="translate(135.8 522) rotate(-90) translate(-10.25 0)">0</text>
<text font-size="41" transform="translate(135.8 339.7) rotate(-90) translate(-35.87 0)">0.08</text>
<text font-size="41" transform="translate(135.8 109.8) rotate(-90) translate(-35.87 0)">0.18</text>
<text font-size="41" transform="translate(1088.3 525) rotate(-90) translate(-10.25 0)">0</text>
<text font-size="41" transform="translate(1088.3 397.9) rotate(-90) translate(-10.81 0)">1</text>
<text font-size="41" transform="translate(1088.3 266) rotate(-90) translate(-9.99 0)">2</text>
<text font-size="41" transform="translate(1088.3 135.5) rotate(-90) translate(-10.4 0)">3</text>
<text font-size="41" transform="translate(135.6 1114) rotate(-90) translate(-10.25 0)">0</text>
<text font-size="41" transform="translate(135.6 975.7) rotate(-90) translate(-9.99 0)">2</text>
<text font-size="41" transform="translate(135.6 841.4) rotate(-90) translate(-10.35 0)">4</text>
<text font-size="41" transform="translate(135.6 705.1) rotate(-90) translate(-10.51 0)">6</text>
<text font-size="41" transform="translate(1088.3 1102.2) rotate(-90) translate(-10.25 0)">0</text>
<text font-size="41" transform="translate(1088.3 1005.9) rotate(-90) translate(-10.81 0)">1</text>
<text font-size="41" transform="translate(1088.3 904.5) rotate(-90) translate(-9.99 0)">2</text>
<text font-size="41" transform="translate(1088.3 811.5) rotate(-90) translate(-10.4 0)">3</text>
<text font-size="41" transform="translate(1088.3 715.9) rotate(-90) translate(-10.35 0)">4</text>
<g transform="translate(86.2 448.4) rotate(-90)" stroke="#000" stroke-linejoin="round">
<text transform="translate(0 -2.3)" font-size="38" text-anchor="middle" stroke-width="1.1">|</text>
<text transform="translate(22.7 0) scale(1.2 1)" font-size="35" text-anchor="middle" stroke-width="0.12" class="m">𝑣</text>
<text transform="translate(57.4 2)" font-size="46" text-anchor="middle" stroke-width="0.5">−</text>
<text transform="translate(96.8 0) scale(1.2 1)" font-size="35" text-anchor="middle" stroke-width="0.12" class="m">𝑣</text>
<text transform="translate(114 -0.5) scale(0.92 1)" font-size="41" text-anchor="middle" stroke-width="0.35">(</text>
<text transform="translate(135.4 0) scale(1.12 1)" font-size="35" text-anchor="middle" stroke-width="0.15" class="m">𝜙</text>
<text transform="translate(156.85 7.4) scale(1.05 1)" font-size="24" text-anchor="middle" stroke-width="0.2" class="m">𝑢</text>
<text transform="translate(172.8 -0.5) scale(0.92 1)" font-size="41" text-anchor="middle" stroke-width="0.35">)</text>
<text transform="translate(190.3 -2.3)" font-size="38" text-anchor="middle" stroke-width="1.1">|</text>
<text transform="translate(279.5 -1.3)" font-size="41.3" text-anchor="middle" stroke-width="0.35">(cm)</text>
</g>
<g transform="translate(1038.6 469) rotate(-90)" stroke="#000" stroke-linejoin="round">
<text transform="translate(0 -2.3)" font-size="38" text-anchor="middle" stroke-width="1.1">|</text>
<text transform="translate(21.1 0) scale(1.2 1)" font-size="35" text-anchor="middle" stroke-width="0.12" class="m">𝑣</text>
<text transform="translate(56.4 2)" font-size="46" text-anchor="middle" stroke-width="0.5">−</text>
<text transform="translate(95.3 0) scale(1.2 1)" font-size="35" text-anchor="middle" stroke-width="0.12" class="m">𝑣</text>
<text transform="translate(113.2 -0.5) scale(0.92 1)" font-size="41" text-anchor="middle" stroke-width="0.35">(</text>
<text transform="translate(135.6 0) scale(1.12 1)" font-size="35" text-anchor="middle" stroke-width="0.15" class="m">𝜙</text>
<text transform="translate(160.4 8.6) scale(1.05 1)" font-size="24" text-anchor="middle" stroke-width="0.2" class="m">𝑤</text>
<text transform="translate(180 -0.5) scale(0.92 1)" font-size="41" text-anchor="middle" stroke-width="0.35">)</text>
<text transform="translate(197.4 -2.3)" font-size="38" text-anchor="middle" stroke-width="1.1">|</text>
<text transform="translate(281.4 -1.3)" font-size="41.3" text-anchor="middle" stroke-width="0.35">(cm)</text>
</g>
<g transform="translate(86.2 1064.4) rotate(-90)" stroke="#000" stroke-linejoin="round">
<text transform="translate(0 -2.3)" font-size="38" text-anchor="middle" stroke-width="1.1">|</text>
<text transform="translate(22 0) scale(1.2 1)" font-size="35" text-anchor="middle" stroke-width="0.12" class="m">𝑣</text>
<text transform="translate(56.8 2)" font-size="46" text-anchor="middle" stroke-width="0.5">−</text>
<text transform="translate(95.7 0) scale(1.2 1)" font-size="35" text-anchor="middle" stroke-width="0.12" class="m">𝑣</text>
<text transform="translate(113.2 -0.5) scale(0.92 1)" font-size="41" text-anchor="middle" stroke-width="0.35">(</text>
<text transform="translate(134.7 0) scale(1.12 1)" font-size="35" text-anchor="middle" stroke-width="0.15" class="m">𝜙</text>
<text transform="translate(157.2 7.4) scale(1.05 1)" font-size="24" text-anchor="middle" stroke-width="0.2" class="m">𝑢</text>
<text transform="translate(174.1 -0.5) scale(0.92 1)" font-size="41" text-anchor="middle" stroke-width="0.35">)</text>
<text transform="translate(195.2 -2.3)" font-size="38" text-anchor="middle" stroke-width="1.1">|</text>
<text transform="translate(284.4 -1.3)" font-size="41.3" text-anchor="middle" stroke-width="0.35">(cm)</text>
</g>
<g transform="translate(1038.6 1049) rotate(-90)" stroke="#000" stroke-linejoin="round">
<text transform="translate(0 -2.3)" font-size="38" text-anchor="middle" stroke-width="1.1">|</text>
<text transform="translate(24.8 0) scale(1.2 1)" font-size="35" text-anchor="middle" stroke-width="0.12" class="m">𝑣</text>
<text transform="translate(59.6 2)" font-size="46" text-anchor="middle" stroke-width="0.5">−</text>
<text transform="translate(98.5 0) scale(1.2 1)" font-size="35" text-anchor="middle" stroke-width="0.12" class="m">𝑣</text>
<text transform="translate(116.4 -0.5) scale(0.92 1)" font-size="41" text-anchor="middle" stroke-width="0.35">(</text>
<text transform="translate(138.4 0) scale(1.12 1)" font-size="35" text-anchor="middle" stroke-width="0.15" class="m">𝜙</text>
<text transform="translate(162.6 8.6) scale(1.05 1)" font-size="24" text-anchor="middle" stroke-width="0.2" class="m">𝑤</text>
<text transform="translate(180.1 -0.5) scale(0.92 1)" font-size="41" text-anchor="middle" stroke-width="0.35">)</text>
<text transform="translate(200.7 -2.3)" font-size="38" text-anchor="middle" stroke-width="1.1">|</text>
<text transform="translate(284.1 -1.3)" font-size="41.3" text-anchor="middle" stroke-width="0.35">(cm)</text>
</g>
<text transform="translate(472.1 633.2) scale(0.976 1.04)" font-size="41" class="i">P</text>
<text transform="translate(496.86 642) scale(1.128 1.04)" font-size="27">z</text>
<text transform="translate(515.7 633.2) scale(0.967 1.04)" font-size="41">/</text>
<text transform="translate(526.6 633.2) scale(1.065 1.04)" font-size="41">P</text>
<text transform="translate(551.11 642) scale(0.934 1.04)" font-size="27">x</text>
<text transform="translate(562.85 642) scale(1.219 1.04)" font-size="27">=</text>
<text transform="translate(580.59 642) scale(0.924 1.04)" font-size="27">y</text>
<text transform="translate(603.82 633.2) scale(1.024 1.04)" font-size="41">(-)</text>
<text transform="translate(1417.1 633.2) scale(0.976 1.04)" font-size="41" class="i">P</text>
<text transform="translate(1441.86 642) scale(1.128 1.04)" font-size="27">z</text>
<text transform="translate(1460.7 633.2) scale(0.967 1.04)" font-size="41">/</text>
<text transform="translate(1471.6 633.2) scale(1.065 1.04)" font-size="41">P</text>
<text transform="translate(1502.21 642) scale(0.926 1.04)" font-size="27">x</text>
<text transform="translate(1515.38 642) scale(1.346 1.04)" font-size="27">=</text>
<text transform="translate(1535.99 642) scale(0.924 1.04)" font-size="27">y</text>
<text transform="translate(1559.71 633.2) scale(1.026 1.04)" font-size="41">(-)</text>
<text transform="translate(469.4 1219.85) scale(0.971 1.04)" font-size="41" class="i">P</text>
<text transform="translate(494.12 1230) scale(1.051 1.04)" font-size="27">z</text>
<text transform="translate(505 1230) scale(1.481 1.04)" font-size="27">=</text>
<text transform="translate(527.6 1230) scale(1.011 1.04)" font-size="27">x</text>
<text transform="translate(547.5 1219.85) scale(0.967 1.04)" font-size="41">/</text>
<text transform="translate(558.37 1219.85) scale(1.090 1.04)" font-size="41">P</text>
<text transform="translate(582.29 1230) scale(0.916 1.04)" font-size="27">y</text>
<text transform="translate(606.02 1219.85) scale(1.024 1.04)" font-size="41">(-)</text>
<text transform="translate(1432.69 1215.9) scale(0.951 1.04)" font-size="41" class="i">P</text>
<text transform="translate(1457.53 1225.3) scale(1.042 1.04)" font-size="27">z</text>
<text transform="translate(1468.95 1225.3) scale(1.442 1.04)" font-size="27">=</text>
<text transform="translate(1491.51 1225.3) scale(0.926 1.04)" font-size="27">x</text>
<text transform="translate(1510.3 1215.9) scale(1.011 1.04)" font-size="41">/</text>
<text transform="translate(1521.7 1215.9) scale(1.065 1.04)" font-size="41">P</text>
<text transform="translate(1545.08 1225.3) scale(0.962 1.04)" font-size="27">y</text>
<text transform="translate(1569.31 1215.9) scale(1.026 1.04)" font-size="41">(-)</text>
<text transform="translate(180.26 582.8) scale(1.020 0.995)" font-size="40.8">1.0</text>
<text transform="translate(294.94 582.8) scale(1.020 0.995)" font-size="40.8">0.9</text>
<text transform="translate(399.46 582.8) scale(1.008 0.995)" font-size="40.8">0.85</text>
<text transform="translate(524.46 582.8) scale(1.005 0.995)" font-size="40.8">0.8</text>
<text transform="translate(639.99 582.8) scale(0.989 0.995)" font-size="40.8">0.7</text>
<text transform="translate(754.15 582.8) scale(1.013 0.995)" font-size="40.8">0.65</text>
<text transform="translate(869.05 582.8) scale(1.011 0.995)" font-size="40.8">0.6</text>
<text transform="translate(1130.66 582.8) scale(1.020 0.995)" font-size="40.8">1.0</text>
<text transform="translate(1245.34 582.8) scale(1.020 0.995)" font-size="40.8">0.9</text>
<text transform="translate(1349.86 582.8) scale(1.008 0.995)" font-size="40.8">0.85</text>
<text transform="translate(1474.86 582.8) scale(1.005 0.995)" font-size="40.8">0.8</text>
<text transform="translate(1590.39 582.8) scale(0.989 0.995)" font-size="40.8">0.7</text>
<text transform="translate(1704.55 582.8) scale(1.013 0.995)" font-size="40.8">0.65</text>
<text transform="translate(1819.45 582.8) scale(1.011 0.995)" font-size="40.8">0.6</text>
<text transform="translate(180.56 1168.8) scale(1.020 0.995)" font-size="40.8">1.0</text>
<text transform="translate(295.24 1168.8) scale(1.020 0.995)" font-size="40.8">0.9</text>
<text transform="translate(399.76 1168.8) scale(1.008 0.995)" font-size="40.8">0.85</text>
<text transform="translate(524.76 1168.8) scale(1.005 0.995)" font-size="40.8">0.8</text>
<text transform="translate(640.29 1168.8) scale(0.989 0.995)" font-size="40.8">0.7</text>
<text transform="translate(754.45 1168.8) scale(1.013 0.995)" font-size="40.8">0.65</text>
<text transform="translate(869.35 1168.8) scale(1.011 0.995)" font-size="40.8">0.6</text>
<text transform="translate(1143.06 1165.8) scale(1.020 0.995)" font-size="40.8">1.0</text>
<text transform="translate(1257.74 1165.8) scale(1.020 0.995)" font-size="40.8">0.9</text>
<text transform="translate(1362.26 1165.8) scale(1.008 0.995)" font-size="40.8">0.85</text>
<text transform="translate(1487.26 1165.8) scale(1.005 0.995)" font-size="40.8">0.8</text>
<text transform="translate(1602.79 1165.8) scale(0.989 0.995)" font-size="40.8">0.7</text>
<text transform="translate(1716.95 1165.8) scale(1.013 0.995)" font-size="40.8">0.65</text>
<text transform="translate(1831.85 1165.8) scale(1.011 0.995)" font-size="40.8">0.6</text>
<text transform="translate(24.25 53.86) scale(1.088 1.063)" font-size="40" class="b">(a)</text>
<text transform="translate(971.46 53.86) scale(1.084 1.063)" font-size="40" class="b">(b)</text>
<text transform="translate(24.26 646.09) scale(1.080 1.025)" font-size="40" class="b">(c)</text>
<text transform="translate(990.57 646.09) scale(1.077 1.025)" font-size="40" class="b">(d)</text>
</svg></body></html>
